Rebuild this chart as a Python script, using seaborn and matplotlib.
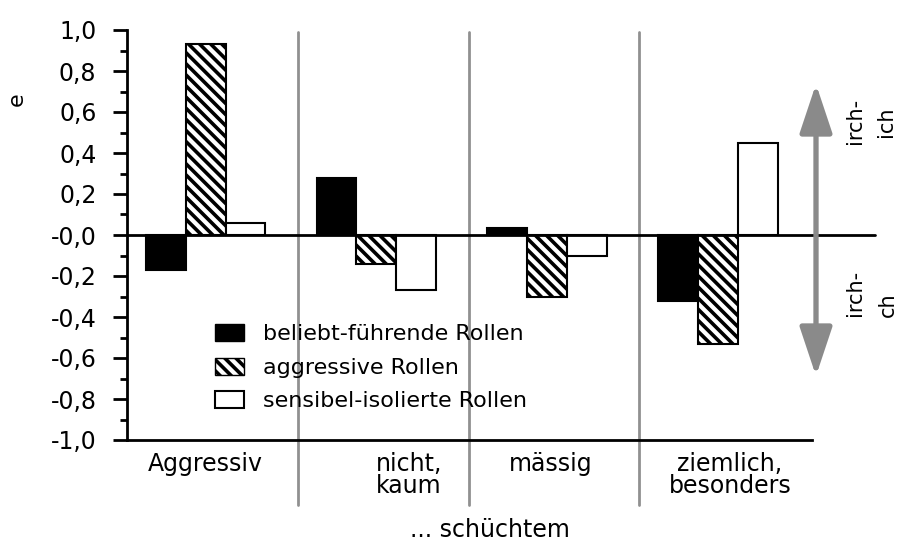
import numpy as np
import pandas as pd
import matplotlib
matplotlib.use("Agg")
import matplotlib.pyplot as plt
import seaborn as sns
from matplotlib.patches import FancyArrowPatch, Patch
from matplotlib.ticker import MultipleLocator

# data
groups = ["Aggressiv", "nicht, kaum", "mässig", "ziemlich, besonders"]
group_labels = ["Aggressiv", "nicht,\nkaum", "mässig", "ziemlich,\nbesonders"]
roles = ["beliebt-führende Rollen", "aggressive Rollen", "sensibel-isolierte Rollen"]
beliebt = [-0.17, 0.28, 0.035, -0.32]
aggressiv = [0.93, -0.14, -0.30, -0.53]
sensibel = [0.06, -0.27, -0.10, 0.45]
yticks = [-1.0, -0.8, -0.6, -0.4, -0.2, 0.0, 0.2, 0.4, 0.6, 0.8, 1.0]
ytick_labels = ["-1,0", "-0,8", "-0,6", "-0,4", "-0,2", "-0,0", "0,2", "0,4", "0,6", "0,8", "1,0"]

df = pd.DataFrame({
    "group": groups * 3,
    "role": [roles[0]] * 4 + [roles[1]] * 4 + [roles[2]] * 4,
    "value": beliebt + aggressiv + sensibel,
})

sns.set_style("white")
plt.rcParams["font.family"] = ["DejaVu Sans"]
plt.rcParams["text.color"] = "black"
plt.rcParams["axes.labelcolor"] = "black"
plt.rcParams["xtick.color"] = "black"
plt.rcParams["ytick.color"] = "black"
plt.rcParams["hatch.linewidth"] = 2.6
plt.rcParams["hatch.color"] = "black"

fig = plt.figure(figsize=(9.03, 5.42), dpi=100)
ax = fig.add_axes([127 / 903, 1 - 440 / 542, 685 / 903, 410 / 542])

sns.barplot(data=df, x="group", y="value", hue="role", order=groups, hue_order=roles,
            width=0.7, palette=["black", "white", "white"], edgecolor="black",
            linewidth=1.5, saturation=1, legend=False, ax=ax)

hatches = ["", "\\\\\\", ""]
for cont, h in zip(ax.containers, hatches):
    for bar in cont:
        bar.set_hatch(h)

ax.set_xlim(-0.46, 3.55)
ax.set_ylim(-1.0, 1.0)
ax.set_yticks(yticks)
ax.set_yticklabels(ytick_labels, fontsize=17)
ax.yaxis.set_minor_locator(MultipleLocator(0.1))
ax.tick_params(axis="y", which="major", direction="out", length=10, width=2, pad=12, left=True)
ax.tick_params(axis="y", which="minor", direction="out", length=5, width=2, left=True)
ax.set_xticks([0.0, 1.19, 2.02, 3.07])
ax.set_xticklabels(group_labels, fontsize=17, linespacing=0.85)
ax.tick_params(axis="x", length=0, pad=9)
ax.set_xlabel("")
ax.set_ylabel("")

for s in ["top", "right"]:
    ax.spines[s].set_visible(False)
for s in ["left", "bottom"]:
    ax.spines[s].set_linewidth(2)
    ax.spines[s].set_color("black")

# zero line extends past the axes
ax.plot([0, (875 - 127) / 685], [0, 0], color="black", lw=2,
        transform=ax.get_yaxis_transform(), clip_on=False, zorder=1)

# gray group separators
for xs in [0.54, 1.54, 2.54]:
    ax.axvline(xs, ymin=-0.159, ymax=0.995, color="#909090", lw=2, clip_on=False, zorder=0)

fig.text(490 / 903, 1 - 537 / 542, "... schüchtem", fontsize=17, ha="center", va="baseline")
fig.text(17 / 903, 1 - 99 / 542, "e", rotation=90, fontsize=16, ha="center", va="center")

arrow = FancyArrowPatch((816 / 903, 1 - 84 / 542), (816 / 903, 1 - 376 / 542),
                        arrowstyle="<|-|>,head_length=1.5,head_width=0.5",
                        mutation_scale=20, lw=3.8, color="#8a8a8a",
                        shrinkA=0, shrinkB=0, transform=fig.transFigure)
fig.patches.append(arrow)
fig.text(855 / 903, 1 - 121 / 542, "irch-", rotation=90, fontsize=15, ha="center", va="center")
fig.text(886 / 903, 1 - 122 / 542, "ich", rotation=90, fontsize=15, ha="center", va="center")
fig.text(855 / 903, 1 - 293 / 542, "irch-", rotation=90, fontsize=15, ha="center", va="center")
fig.text(888 / 903, 1 - 305 / 542, "ch", rotation=90, fontsize=15, ha="center", va="center")

handles = [Patch(facecolor="black", edgecolor="black"),
           Patch(facecolor="white", edgecolor="black", hatch="\\\\\\"),
           Patch(facecolor="white", edgecolor="black", lw=1.5)]
fig.legend(handles, roles, loc="upper left", bbox_to_anchor=(215 / 903, 1 - 324 / 542),
           frameon=False, fontsize=16, handlelength=1.3, handleheight=0.8,
           handletextpad=0.85, labelspacing=0.6, borderpad=0, borderaxespad=0)

plt.savefig("out.png", dpi=100)
